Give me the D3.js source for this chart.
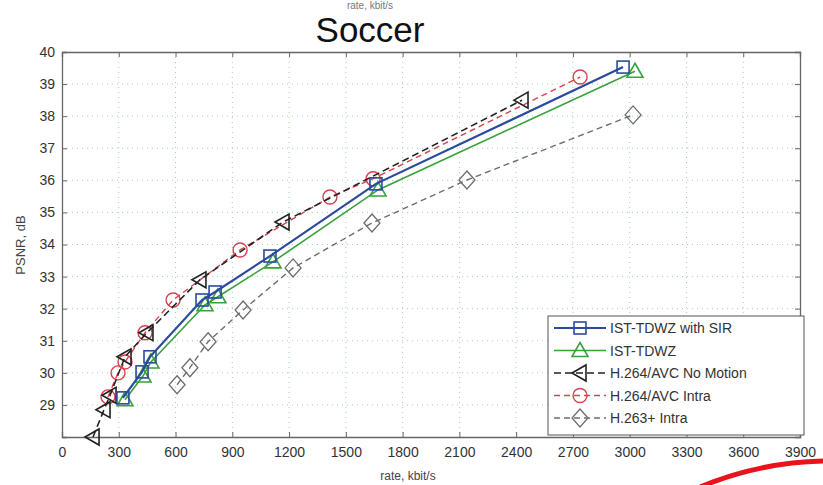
<!DOCTYPE html>
<html>
<head>
<meta charset="utf-8">
<script src="https://cdn.jsdelivr.net/npm/d3@7"></script>
<style>
  body { margin: 0; background: #fff; }
  svg { display: block; font-family: "Liberation Sans", Arial, sans-serif; }
</style>
</head>
<body>
<svg id="chart" width="823" height="485"></svg>
<script>
// tick labels
var xTicks = [0, 300, 600, 900, 1200, 1500, 1800, 2100, 2400, 2700, 3000, 3300, 3600, 3900];
var yTicks = [28, 29, 30, 31, 32, 33, 34, 35, 36, 37, 38, 39, 40];

// series (rate kbit/s, PSNR dB)
var sirRate = [322, 423, 465, 740, 809, 1099, 1659, 2965];
var sirPsnr = [29.22, 30.03, 30.5, 32.27, 32.52, 33.64, 35.89, 39.53];

var tdwzRate = [333, 428, 470, 756, 824, 1115, 1670, 3028];
var tdwzPsnr = [29.16, 29.9, 30.34, 32.12, 32.37, 33.46, 35.7, 39.4];

var noMotionRate = [164, 222, 254, 333, 449, 729, 1168, 2431];
var noMotionPsnr = [28.0, 28.85, 29.3, 30.5, 31.25, 32.9, 34.7, 38.5];

var intraRate = [243, 296, 333, 439, 587, 941, 1416, 1644, 2738];
var intraPsnr = [29.25, 30.0, 30.34, 31.25, 32.27, 33.83, 35.48, 36.05, 39.22];

var h263Rate = [608, 676, 772, 957, 1221, 1638, 2140, 3018];
var h263Psnr = [29.63, 30.16, 30.97, 31.96, 33.27, 34.67, 36.01, 38.04];

var seriesNames = ["IST-TDWZ with SIR", "IST-TDWZ", "H.264/AVC No Motion", "H.264/AVC Intra", "H.263+ Intra"];

function zip(xs, ys) { return xs.map(function (x, i) { return { x: x, y: ys[i] }; }); }

var series = [
  { name: seriesNames[0], pts: zip(sirRate, sirPsnr), color: "#2a4a9e", width: 2.2, dash: null, marker: "square" },
  { name: seriesNames[1], pts: zip(tdwzRate, tdwzPsnr), color: "#38a13a", width: 1.6, dash: null, marker: "triangleUp" },
  { name: seriesNames[2], pts: zip(noMotionRate, noMotionPsnr), color: "#222", width: 1.6, dash: "7,4", marker: "triangleLeft" },
  { name: seriesNames[3], pts: zip(intraRate, intraPsnr), color: "#d8404e", width: 1.4, dash: "6,4", marker: "circle" },
  { name: seriesNames[4], pts: zip(h263Rate, h263Psnr), color: "#6d6d6d", width: 1.4, dash: "6,4", marker: "diamond" }
];

var svg = d3.select("#chart");
// plot box (note: "top" is reserved on window, so use prefixed names)
var pLeft = 62, pRight = 800, pTop = 52, pBottom = 437;

var x = d3.scaleLinear().domain([0, 3900]).range([pLeft, pRight]);
var y = d3.scaleLinear().domain([28, 40]).range([pBottom, pTop]);

// small label at the very top of the scan
svg.append("text")
  .attr("x", 370).attr("y", 9)
  .attr("text-anchor", "middle")
  .attr("font-size", 10).attr("fill", "#777")
  .text("rate, kbit/s");

svg.append("text")
  .attr("x", 370).attr("y", 42)
  .attr("text-anchor", "middle")
  .attr("font-size", 35).attr("fill", "#111")
  .text("Soccer");

// grid
var grid = svg.append("g").attr("class", "grid")
  .attr("stroke", "#a6d4a6").attr("stroke-width", 1).attr("stroke-dasharray", "1,4");
grid.selectAll("line.gx").data(xTicks.slice(1, -1)).enter().append("line")
  .attr("x1", d => x(d)).attr("x2", d => x(d)).attr("y1", pTop).attr("y2", pBottom);
grid.selectAll("line.gy").data(yTicks.slice(1, -1)).enter().append("line")
  .attr("y1", d => y(d)).attr("y2", d => y(d)).attr("x1", pLeft).attr("x2", pRight);

// axes (matlab style, ticks inward on all sides)
var axisColor = "#666";
var xAxis = svg.append("g").attr("transform", "translate(0," + pBottom + ")")
  .call(d3.axisBottom(x).tickValues(xTicks).tickSize(-5).tickPadding(10).tickFormat(d3.format("d")));
var xTop = svg.append("g").attr("transform", "translate(0," + pTop + ")")
  .call(d3.axisTop(x).tickValues(xTicks).tickSize(-5).tickFormat(""));
var yAxis = svg.append("g").attr("transform", "translate(" + pLeft + ",0)")
  .call(d3.axisLeft(y).tickValues(yTicks).tickSize(-5).tickPadding(7).tickFormat(d => d === 28 ? "" : d));
var yRight = svg.append("g").attr("transform", "translate(" + pRight + ",0)")
  .call(d3.axisRight(y).tickValues(yTicks).tickSize(-5).tickFormat(""));

[xAxis, xTop, yAxis, yRight].forEach(function (g) {
  g.select(".domain").attr("stroke", axisColor).attr("stroke-width", 1.3);
  g.selectAll(".tick line").attr("stroke", axisColor);
  g.selectAll("text").attr("font-size", 14).attr("fill", "#333")
    .attr("font-family", "'Liberation Sans Narrow', 'Liberation Sans', Arial, sans-serif");
});

svg.append("text")
  .attr("x", 408).attr("y", 480)
  .attr("text-anchor", "middle").attr("font-size", 12).attr("fill", "#444")
  .text("rate, kbit/s");

svg.append("text")
  .attr("transform", "translate(25,245) rotate(-90)")
  .attr("text-anchor", "middle").attr("font-size", 13).attr("fill", "#444")
  .text("PSNR, dB");

// markers
function drawMarker(g, type, cx, cy, color) {
  var s = 6;
  if (type === "square") {
    g.append("rect").attr("x", cx - s).attr("y", cy - s).attr("width", 2 * s).attr("height", 2 * s)
      .attr("fill", "none").attr("stroke", color).attr("stroke-width", 1.6);
  } else if (type === "circle") {
    g.append("circle").attr("cx", cx).attr("cy", cy).attr("r", 7)
      .attr("fill", "none").attr("stroke", color).attr("stroke-width", 1.4);
  } else if (type === "triangleUp") {
    g.append("path").attr("d", `M${cx},${cy - 8}L${cx + 8},${cy + 6}L${cx - 8},${cy + 6}Z`)
      .attr("fill", "none").attr("stroke", color).attr("stroke-width", 1.6);
  } else if (type === "triangleLeft") {
    g.append("path").attr("d", `M${cx - 8},${cy}L${cx + 6},${cy - 8}L${cx + 6},${cy + 8}Z`)
      .attr("fill", "none").attr("stroke", color).attr("stroke-width", 1.6);
  } else if (type === "diamond") {
    g.append("path").attr("d", `M${cx},${cy - 9}L${cx + 8},${cy}L${cx},${cy + 9}L${cx - 8},${cy}Z`)
      .attr("fill", "none").attr("stroke", color).attr("stroke-width", 1.3);
  }
}

var line = d3.line().x(d => x(d.x)).y(d => y(d.y));
var plot = svg.append("g");

series.slice().reverse().forEach(function (s) {
  plot.append("path").datum(s.pts)
    .attr("d", line)
    .attr("fill", "none")
    .attr("stroke", s.color)
    .attr("stroke-width", s.width)
    .attr("stroke-dasharray", s.dash);
  var mg = plot.append("g");
  s.pts.forEach(function (p) { drawMarker(mg, s.marker, x(p.x), y(p.y), s.color); });
});

// legend
var lg = svg.append("g").attr("transform", "translate(548,316)");
lg.append("rect").attr("width", 256).attr("height", 119)
  .attr("fill", "#fff").attr("stroke", "#555").attr("stroke-width", 1);
series.forEach(function (s, i) {
  var ly = 12 + i * 22.5;
  lg.append("line").attr("x1", 6).attr("x2", 58).attr("y1", ly).attr("y2", ly)
    .attr("stroke", s.color).attr("stroke-width", s.width).attr("stroke-dasharray", s.dash);
  drawMarker(lg, s.marker, 32, ly, s.color);
  lg.append("text").attr("x", 62).attr("y", ly + 5)
    .attr("font-size", 14).attr("fill", "#333")
    .text(s.name);
});

// red stroke in the lower right corner of the scan
svg.append("path")
  .attr("d", "M700,487 Q760,462 826,461")
  .attr("fill", "none").attr("stroke", "#e8141c").attr("stroke-width", 5);
</script>
</body>
</html>
